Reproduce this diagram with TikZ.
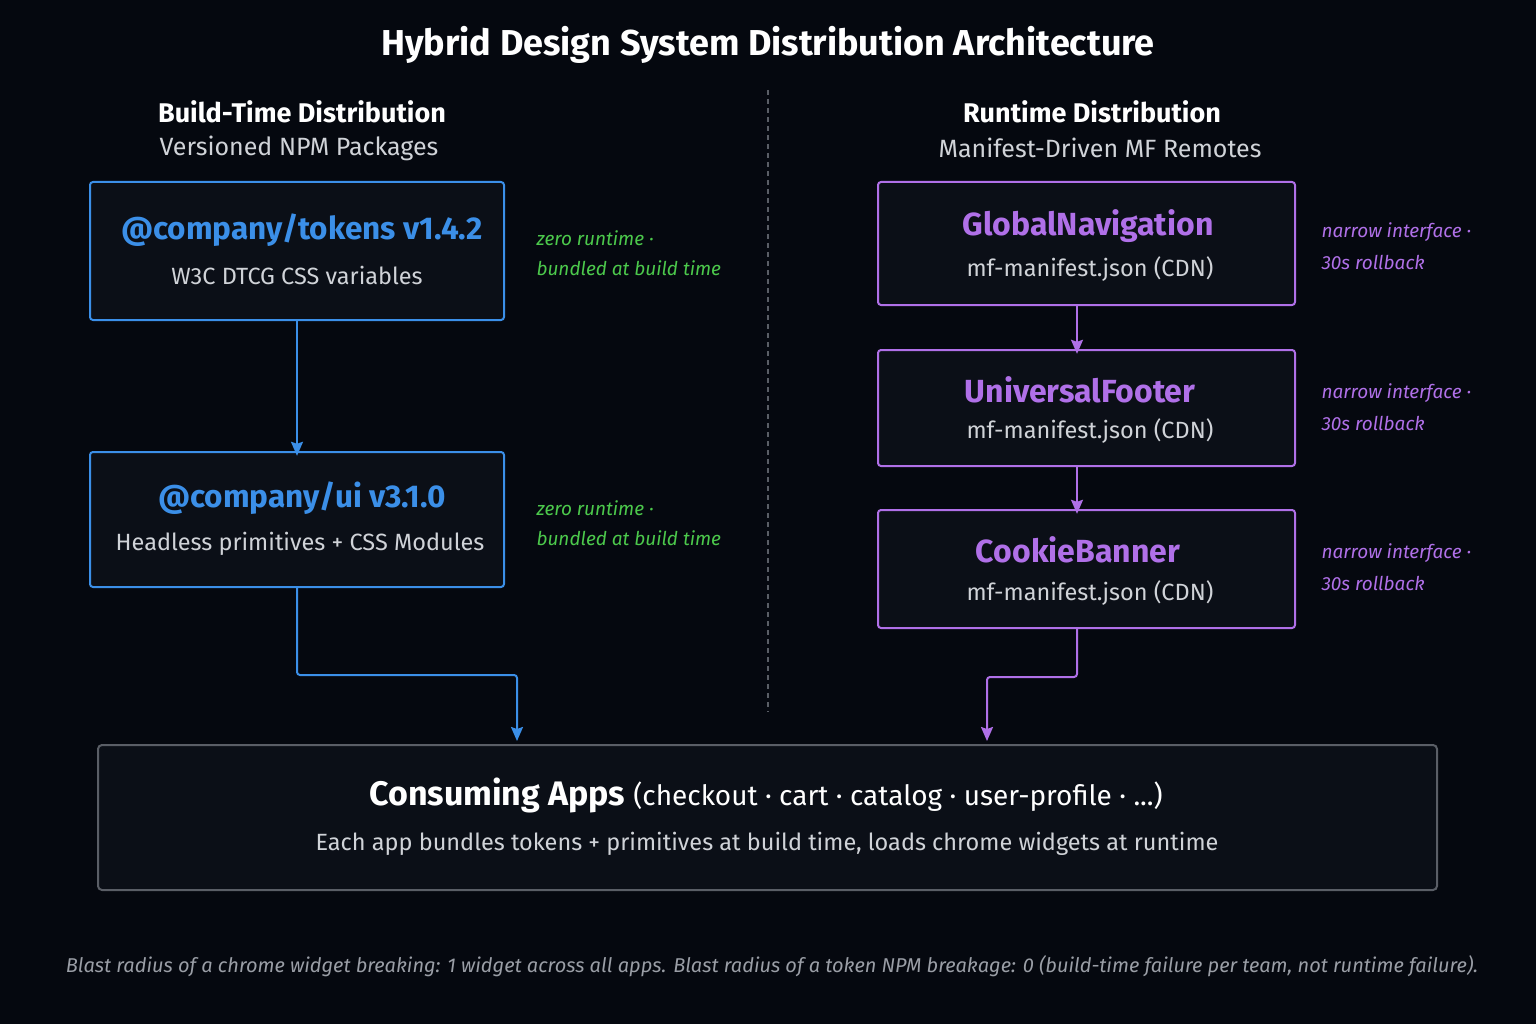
\documentclass[tikz,border=0pt]{standalone}
\usepackage{fontspec}
\setmainfont{Fira Sans}
\usetikzlibrary{arrows.meta}
\definecolor{bg}{HTML}{05080F}
\definecolor{boxbg}{HTML}{0B0F17}
\definecolor{blu}{HTML}{3B8FE8}
\definecolor{pur}{HTML}{B070E8}
\definecolor{grn}{HTML}{4CC94C}
\definecolor{txt}{HTML}{D0D3D8}
\definecolor{gry}{HTML}{5A5E66}
\definecolor{ftxt}{HTML}{9A9EA6}
\begin{document}
\begin{tikzpicture}[x=1pt,y=-1pt,
  fs/.style={font=\fontsize{#1}{#1}\selectfont},
  bf/.style={font=\fontsize{#1}{#1}\selectfont\bfseries},
  it/.style={font=\fontsize{#1}{#1}\selectfont\itshape},
  bbox/.style={draw=blu,line width=2pt,rounded corners=3pt,fill=boxbg},
  pbox/.style={draw=pur,line width=2pt,rounded corners=3pt,fill=boxbg},
  sub/.style={text=txt,fs=23.5},
  note/.style={anchor=west,it=19},
  arr/.style={line width=2pt,-{Stealth[length=14pt,width=12pt,inset=2pt]}}]
\fill[bg] (0,0) rectangle (1536,1024);
\useasboundingbox (0,0) rectangle (1536,1024);
\node[bf=36,text=white] (title) at (768,45) {Hybrid Design System Distribution Architecture};
\node[bf=27,text=white] (lh) at (302,112) {Build-Time Distribution};
\node[text=txt,fs=25] (ls) at (299,148) {Versioned NPM Packages};
\node[bf=27,text=white] (rh) at (1092,112) {Runtime Distribution};
\node[text=txt,fs=25] (rs) at (1100,148) {Manifest-Driven MF Remotes};
\draw[gry,line width=1.5pt,dash pattern=on 5pt off 4pt] (768,90) coordinate (d1) -- (768,712) coordinate (d2);
% left boxes
\draw[bbox] (90,182) rectangle (504,320);
\node (b1) at (297,251) [minimum width=414pt,minimum height=138pt] {};
\node[bf=31.5,text=blu] at (302,230) {@company/tokens v1.4.2};
\node[sub] at (297,275) {W3C DTCG CSS variables};
\draw[bbox] (90,452) rectangle (504,587);
\node (b2) at (297,519.5) [minimum width=414pt,minimum height=135pt] {};
\node[bf=31.5,text=blu] at (302,498) {@company/ui v3.1.0};
\node[sub] at (300,544) {Headless primitives + CSS Modules};
\draw[arr,blu] (b1.south) -- ([yshift=-4pt]b2.north);
\node[note,text=grn] at (533,238) {zero runtime ·};
\node[note,text=grn] at (533,268) {bundled at build time};
\node[note,text=grn] at (533,508) {zero runtime ·};
\node[note,text=grn] at (533,538) {bundled at build time};
% right boxes
\draw[pbox] (878,182) rectangle (1295,305);
\node (r1) at (1077,243.5) [minimum width=417pt,minimum height=123pt] {};
\node[bf=32,text=pur] at (1088,226) {GlobalNavigation};
\node[sub] at (1090,269) {mf-manifest.json (CDN)};
\draw[pbox] (878,350) rectangle (1295,466);
\node (r2) at (1077,408) [minimum width=417pt,minimum height=116pt] {};
\node[bf=32,text=pur] at (1080,390) {UniversalFooter};
\node[sub] at (1090,431) {mf-manifest.json (CDN)};
\draw[pbox] (878,510) rectangle (1295,628);
\node (r3) at (1077,569) [minimum width=417pt,minimum height=118pt] {};
\node[bf=32,text=pur] at (1078,550) {CookieBanner};
\node[sub] at (1090,593) {mf-manifest.json (CDN)};
\draw[arr,pur] (r1.south) -- ([yshift=-4pt]r2.north);
\draw[arr,pur] (r2.south) -- ([yshift=-4pt]r3.north);
\foreach \y in {232,393,553}{
 \node[note,text=pur] at (1318,\y) {narrow interface ·};
 \node[note,text=pur] at (1318,\y+30) {30s rollback};}
% bottom
\draw[draw=gry,line width=2pt,rounded corners=4pt,fill=boxbg] (98,745) rectangle (1437,890);
\node (ca) at (767.5,817.5) [minimum width=1339pt,minimum height=145pt] {};
\coordinate (cl) at (517,741);
\coordinate (cr) at (987,741);
\node[text=white] at (766,795) {\fontsize{34}{34}\selectfont\bfseries Consuming Apps \fontsize{28}{28}\selectfont\mdseries (checkout · cart · catalog · user-profile · ...)};
\node[sub] at (767,844) {Each app bundles tokens + primitives at build time, loads chrome widgets at runtime};
\draw[arr,blu,rounded corners=3pt] (b2.south) -- (297,675) -- (517,675) -- (cl);
\draw[arr,pur,rounded corners=3pt] (r3.south) -- (1077,677) -- (987,677) -- (cr);
\node[it=20,text=ftxt] (foot) at (772,966) {Blast radius of a chrome widget breaking: 1 widget across all apps. Blast radius of a token NPM breakage: 0 (build-time failure per team, not runtime failure).};
\end{tikzpicture}
\end{document}
